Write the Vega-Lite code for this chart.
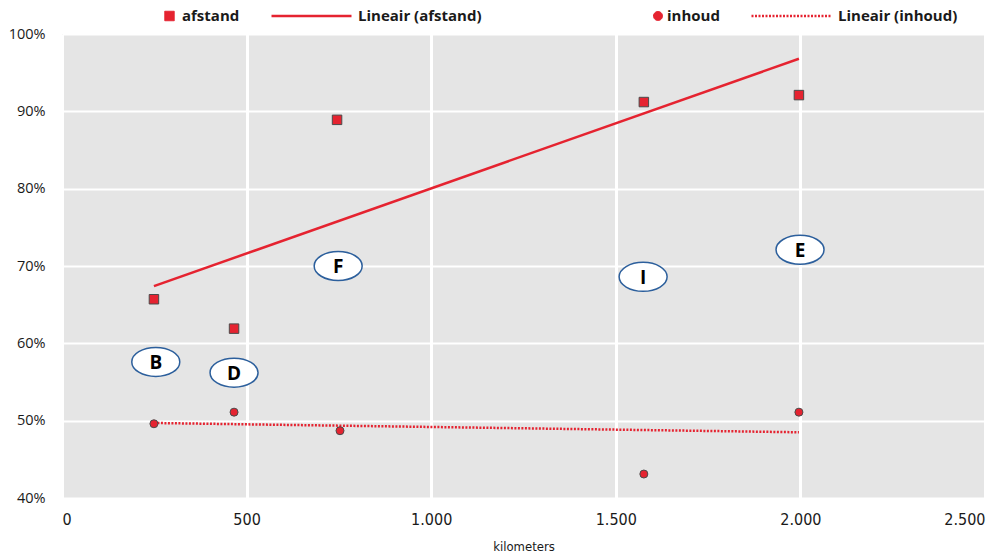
{
  "$schema": "https://vega.github.io/schema/vega-lite/v6.json",
  "width": 923,
  "height": 464,
  "padding": {"left": 8, "top": 8, "right": 9, "bottom": 5},
  "background": "white",
  "config": {
    "view": {"fill": "#e5e5e5", "stroke": null},
    "font": "Open Sans"
  },
  "datasets": {
    "punten": [
      {"km": 249, "pct": 0.657, "serie": "afstand"},
      {"km": 466, "pct": 0.619, "serie": "afstand"},
      {"km": 745, "pct": 0.889, "serie": "afstand"},
      {"km": 1576, "pct": 0.912, "serie": "afstand"},
      {"km": 1996, "pct": 0.921, "serie": "afstand"},
      {"km": 249, "pct": 0.496, "serie": "inhoud"},
      {"km": 466, "pct": 0.511, "serie": "inhoud"},
      {"km": 753, "pct": 0.487, "serie": "inhoud"},
      {"km": 1576, "pct": 0.431, "serie": "inhoud"},
      {"km": 1996, "pct": 0.511, "serie": "inhoud"}
    ],
    "trend": [
      {"km": 249, "pct": 0.674, "serie": "Lineair (afstand)"},
      {"km": 1996, "pct": 0.968, "serie": "Lineair (afstand)"},
      {"km": 249, "pct": 0.497, "serie": "Lineair (inhoud)"},
      {"km": 1996, "pct": 0.485, "serie": "Lineair (inhoud)"}
    ],
    "labels": [
      {"km": 254, "pct": 0.576, "label": "B"},
      {"km": 466, "pct": 0.562, "label": "D"},
      {"km": 748, "pct": 0.700, "label": "F"},
      {"km": 1574, "pct": 0.686, "label": "I"},
      {"km": 1999, "pct": 0.721, "label": "E"}
    ]
  },
  "encoding": {
    "x": {
      "field": "km",
      "type": "quantitative",
      "scale": {"domain": [0, 2500], "nice": false},
      "axis": {
        "title": "kilometers",
        "values": [0, 500, 1000, 1500, 2000, 2500],
        "labelExpr": "replace(format(datum.value, ','), ',', '.')",
        "domain": false,
        "ticks": false,
        "grid": true,
        "gridColor": "white",
        "gridWidth": 3,
        "labelFont": "DejaVu Sans Condensed, Liberation Sans Narrow, sans-serif",
        "labelFontSize": 16,
        "labelColor": "#1a1a1a",
        "labelPadding": 13,
        "labelFlush": true,
        "titleFont": "DejaVu Sans Condensed, Liberation Sans Narrow, sans-serif",
        "titleFontSize": 13,
        "titleFontWeight": "normal",
        "titleColor": "#1a1a1a",
        "titlePadding": 13
      }
    },
    "y": {
      "field": "pct",
      "type": "quantitative",
      "scale": {"domain": [0.4, 1.0], "nice": false, "zero": false},
      "axis": {
        "title": null,
        "values": [0.4, 0.5, 0.6, 0.7, 0.8, 0.9, 1.0],
        "format": ".0%",
        "domain": false,
        "ticks": false,
        "grid": true,
        "gridColor": "white",
        "gridWidth": 2,
        "labelFont": "Open Sans",
        "labelFontSize": 14.5,
        "labelColor": "#1a1a1a",
        "labelPadding": 17
      }
    }
  },
  "layer": [
    {
      "data": {"name": "trend"},
      "transform": [{"filter": "datum.serie == 'Lineair (afstand)'"}],
      "mark": {"type": "line", "strokeWidth": 2.5},
      "encoding": {
        "color": {
          "field": "serie",
          "type": "nominal",
          "scale": {
            "domain": ["afstand", "Lineair (afstand)", "inhoud", "Lineair (inhoud)"],
            "range": ["#e52330", "#e52330", "#e52330", "#e52330"]
          },
          "legend": {
            "orient": "none",
            "legendX": 100,
            "legendY": -26,
            "direction": "horizontal",
            "title": null,
            "padding": 0,
            "clipHeight": 16,
            "columnPadding": 30,
            "labelOffset": 5,
            "symbolOffset": 0,
            "labelFont": "Open Sans",
            "labelFontWeight": "bold",
            "labelFontSize": 15,
            "labelColor": "#1a1a1a",
            "labelLimit": 600,
            "encode": {
              "symbols": {
                "update": {
                  "shape": {"signal": "(datum.value || datum) == 'afstand' ? 'square' : (datum.value || datum) == 'inhoud' ? 'M -1 0 M 0.8926 0 A 0.0604 0.0604 0 1 1 1.0134 0 A 0.0604 0.0604 0 1 1 0.8926 0 Z' : 'stroke'"},
                  "size": {"signal": "((datum.value || datum) == 'afstand' ? 90 : (datum.value || datum) == 'inhoud' ? 22201 : 6400)"},
                  "fill": {"signal": "indexof('' + (datum.value || datum), 'Lineair') == 0 ? 'transparent' : '#e52330'"},
                  "stroke": {"signal": "indexof('' + (datum.value || datum), 'Lineair') == 0 ? '#e52330' : '#4a4a4a'"},
                  "strokeWidth": {"signal": "(indexof('' + (datum.value || datum), 'Lineair') == 0 ? 2.5 : 1)"},
                  "strokeDash": {"signal": "(datum.value || datum) == 'Lineair (inhoud)' ? [2, 1.5] : [1, 0]"},
                  "opacity": {"value": 1}
                }
              }
            }
          }
        }
      }
    },
    {
      "data": {"name": "trend"},
      "transform": [{"filter": "datum.serie == 'Lineair (inhoud)'"}],
      "mark": {"type": "line", "strokeWidth": 2.5, "strokeDash": [2, 1.5]},
      "encoding": {
        "color": {"field": "serie", "type": "nominal"}
      }
    },
    {
      "data": {"name": "punten"},
      "transform": [{"filter": "datum.serie == 'afstand'"}],
      "mark": {"type": "point", "shape": "square", "filled": true, "size": 90, "stroke": "#4a4a4a", "strokeWidth": 1, "opacity": 1},
      "encoding": {
        "color": {"field": "serie", "type": "nominal"}
      }
    },
    {
      "data": {"name": "punten"},
      "transform": [{"filter": "datum.serie == 'inhoud'"}],
      "mark": {"type": "point", "shape": "circle", "filled": true, "size": 64, "stroke": "#4a4a4a", "strokeWidth": 1, "opacity": 1},
      "encoding": {
        "color": {"field": "serie", "type": "nominal"}
      }
    },
    {
      "data": {"name": "labels"},
      "mark": {
        "type": "point",
        "shape": "M -1 0 A 1 0.604 0 1 1 1 0 A 1 0.604 0 1 1 -1 0 Z",
        "size": 2304,
        "filled": true,
        "fill": "white",
        "stroke": "#2c5f9c",
        "strokeWidth": 1.5,
        "opacity": 1
      }
    },
    {
      "data": {"name": "labels"},
      "mark": {"type": "text", "font": "Open Sans", "fontWeight": "bold", "fontSize": 19, "color": "#000000", "baseline": "middle", "align": "center", "dy": 1},
      "encoding": {"text": {"field": "label", "type": "nominal"}}
    }
  ]
}
